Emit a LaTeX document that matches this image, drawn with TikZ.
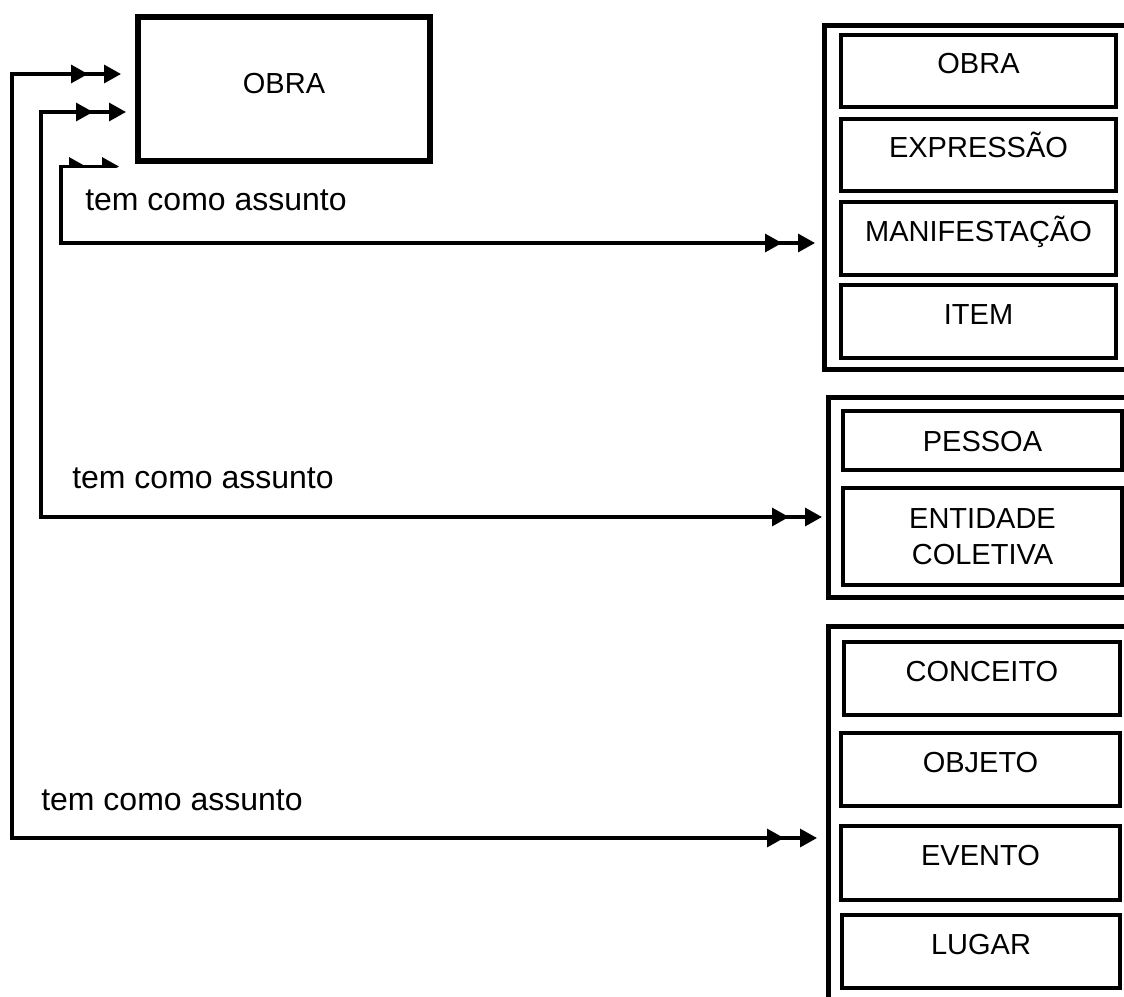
\documentclass[tikz,border=0pt]{standalone}
\usepackage{fontspec}
\setmainfont{Liberation Sans}
\usetikzlibrary{arrows.meta,calc,decorations.markings}
\begin{document}
\begin{tikzpicture}[x=0.5pt,y=-0.5pt,
  boxfont/.style={font=\fontsize{14.5pt}{18pt}\selectfont},
  mainbox/.style={draw,line width=3pt,inner sep=0pt,boxfont,text height=10.5pt,text depth=6pt},
  groupbox/.style={draw,line width=2.5pt,inner sep=0pt},
  entbase/.style={draw,line width=1.75pt,inner sep=0pt,boxfont},
  entbox/.style={entbase,text height=10.5pt,text depth=8pt},
  entmid/.style={entbase,text height=10.5pt,text depth=0pt},
  lbl/.style={font=\fontsize{16pt}{19pt}\selectfont,inner sep=0pt},
  conn/.style={line width=1.6pt,
    {Triangle[length=8.5pt,width=9pt]}-{Triangle[length=8.5pt,width=9pt]},
    postaction={decorate,decoration={markings,
      mark=at position 16.5pt with {\arrowreversed{Triangle[length=8.5pt,width=9pt]}},
      mark=at position -16.5pt with {\arrow{Triangle[length=8.5pt,width=9pt]}}}}}
]
\useasboundingbox (0,0) rectangle (1124,996);

% main OBRA box
\node[mainbox,minimum width=146pt,minimum height=72pt] (obra) at (284,89) {OBRA};

% group 1
\node[groupbox,minimum width=152pt,minimum height=171.75pt] (g1) at (976,197.25) {};
\node[entbox,minimum width=137.5pt,minimum height=36pt] (g1a) at (978.5,71) {OBRA};
\node[entbox,minimum width=137.5pt,minimum height=36pt] (g1b) at (978.5,155) {EXPRESSÃO};
\node[entbox,minimum width=137.5pt,minimum height=36.5pt] (g1c) at (978.5,238.5) {MANIFESTAÇÃO};
\node[entbox,minimum width=137.5pt,minimum height=36.5pt] (g1d) at (978.5,321.5) {ITEM};

% group 2
\node[groupbox,minimum width=151pt,minimum height=100pt] (g2) at (979,497) {};
\node[entmid,minimum width=139.5pt,minimum height=29.5pt] (g2a) at (982.5,440.5) {PESSOA};
\node[entbase,align=center,minimum width=139.5pt,minimum height=48.5pt] (g2b) at (982.5,536.5) {ENTIDADE\\COLETIVA};

% group 3
\node[groupbox,minimum width=150.75pt,minimum height=189.5pt] (g3) at (979.25,815.5) {};
\node[entbox,minimum width=138pt,minimum height=36.5pt] (g3a) at (982,678.5) {CONCEITO};
\node[entbox,minimum width=139.5pt,minimum height=36.5pt] (g3b) at (980.5,769.5) {OBJETO};
\node[entbox,minimum width=139.5pt,minimum height=37pt] (g3c) at (980.5,863) {EVENTO};
\node[entbox,minimum width=139pt,minimum height=36.5pt] (g3d) at (981,951.5) {LUGAR};

% connectors
\draw[conn] ($(obra.west)+(-14,-15)$) -- ++(-109,0) |- ($(g3.west)+(-9,22.5)$);
\draw[conn] ($(obra.west)+(-9,23)$) -- ++(-85,0) |- ($(g2.west)+(-3.5,20)$);
\draw[conn] ($(obra.west)+(-16,77.5)$) -- ++(-58,0) |- ($(g1.west)+(-6.5,45.75)$);

% labels
\node[lbl,fill=white,minimum width=149pt,minimum height=32pt] (lab1) at (216,200) {tem como assunto};
\node[lbl] (lab2) at (203,478) {tem como assunto};
\node[lbl] (lab3) at (172,800) {tem como assunto};
\end{tikzpicture}
\end{document}
